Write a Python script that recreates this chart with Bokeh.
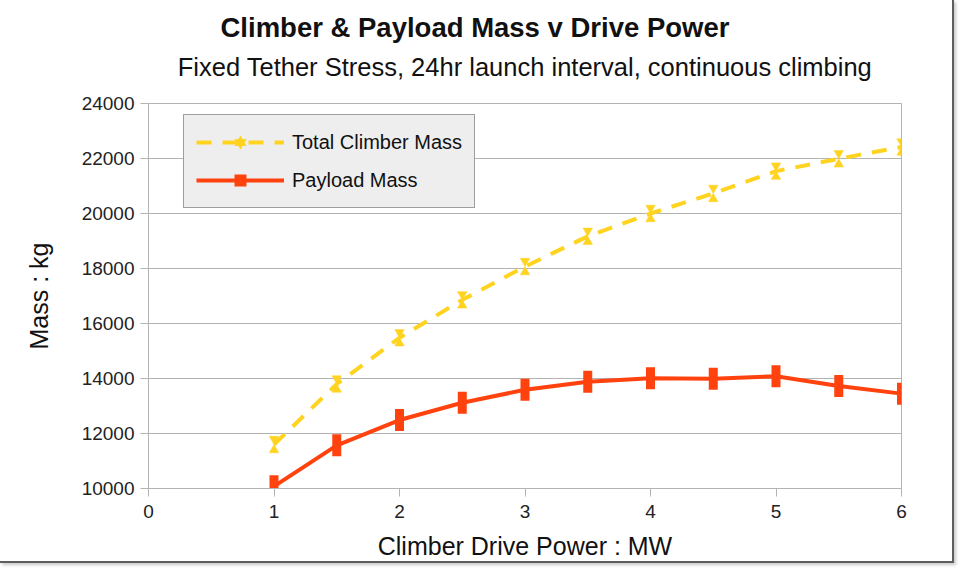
from bokeh.plotting import figure
from bokeh.models import (ColumnDataSource, Legend, LegendItem, Title,
                          FixedTicker, Range1d)
from bokeh.embed import file_html
from bokeh.resources import INLINE

# ---- data ----
power_mw = [1, 1.5, 2, 2.5, 3, 3.5, 4, 4.5, 5, 5.5, 6]
total_climber_mass = [11600, 13800, 15480, 16860, 18070, 19170, 20000, 20730, 21540, 21990, 22420]
payload_mass = [10080, 11570, 12490, 13120, 13590, 13880, 14010, 13990, 14080, 13730, 13450]
x_ticks = [0, 1, 2, 3, 4, 5, 6]
y_ticks = [10000, 12000, 14000, 16000, 18000, 20000, 22000, 24000]

title_text = "Climber & Payload Mass v Drive Power"
subtitle_text = "Fixed Tether Stress, 24hr launch interval, continuous climbing"
x_label = "Climber Drive Power : MW"
y_label = "Mass : kg"

YELLOW = "#ffd320"
RED = "#ff420e"
GRID = "#b3b3b3"
FONT = "Liberation Sans"

X0, X1 = 0, 6
Y0, Y1 = 10000, 24000
W, H = 954, 563
ML, MR, MT, MB = 148, 53, 103, 75
FRAME_H = H - MT - MB

p = figure(width=W, height=H, x_range=Range1d(X0, X1), y_range=Range1d(Y0, Y1),
           output_backend="svg", toolbar_location=None, title=None,
           min_border_left=ML, min_border_right=MR, min_border_top=MT, min_border_bottom=MB,
           background_fill_color="white", border_fill_color="white")
p.styles = {"border-right": "2px solid #5e5e5e", "border-bottom": "2px solid #5e5e5e",
            "box-shadow": "2px 2px 3px #c8c8c8"}

p.outline_line_color = GRID
p.outline_line_width = 1

# titles: spacer (closest to frame), subtitle, main title
p.add_layout(Title(text=" ", text_font=FONT, text_font_size="1px", standoff=18.5), "above")
p.add_layout(Title(text=subtitle_text, align="center", text_font=FONT, text_font_size="25.5px",
                   text_font_style="normal", text_color="#111111", standoff=2), "above")
p.add_layout(Title(text=title_text, align="left", offset=72, text_font=FONT, text_font_size="27.5px",
                   text_font_style="bold", text_color="#111111", standoff=12.5), "above")

# axes
for ax in (p.xaxis[0], p.yaxis[0]):
    ax.axis_line_color = GRID
    ax.major_tick_line_color = GRID
    ax.minor_tick_line_color = None
    ax.major_tick_out = 8
    ax.major_tick_in = 0
    ax.major_label_text_font = FONT
    ax.major_label_text_font_size = "19px"
    ax.major_label_text_color = "#222222"
    ax.axis_label_text_font = FONT
    ax.axis_label_text_font_size = "25px"
    ax.axis_label_text_font_style = "normal"
    ax.axis_label_text_color = "#111111"

p.xaxis.ticker = FixedTicker(ticks=x_ticks)
p.yaxis.ticker = FixedTicker(ticks=y_ticks)
p.xaxis.axis_label = x_label
p.yaxis.axis_label = y_label
p.xaxis.major_label_standoff = 8
p.yaxis.major_label_standoff = 6
p.xaxis.axis_label_standoff = 11
p.yaxis.axis_label_standoff = 26

p.xgrid.visible = False
p.ygrid.ticker = FixedTicker(ticks=y_ticks)
p.ygrid.grid_line_color = GRID
p.ygrid.grid_line_width = 1

# data sources
tri_size = 9.5
tri_off = 0.577 * tri_size * (Y1 - Y0) / FRAME_H
src_total = ColumnDataSource(dict(
    x=power_mw, y=total_climber_mass,
    y_up=[v + tri_off for v in total_climber_mass],
    y_dn=[v - tri_off for v in total_climber_mass]))
src_pay = ColumnDataSource(dict(x=power_mw, y=payload_mass))

# Total climber mass
l_total = p.line("x", "y", source=src_total, line_color=YELLOW, line_width=4,
                 line_dash="15 11")
p.scatter("x", "y_up", source=src_total, marker="inverted_triangle", size=tri_size,
          fill_color=YELLOW, line_color=YELLOW, line_width=0.5)
p.scatter("x", "y_dn", source=src_total, marker="triangle", size=tri_size,
          fill_color=YELLOW, line_color=YELLOW, line_width=0.5)
leg_t1 = p.scatter("x", "y", source=src_total, marker="inverted_triangle", size=0,
                   fill_color=YELLOW, line_color=None)
leg_t2 = p.scatter("x", "y", source=src_total, marker="triangle", size=0,
                   fill_color=YELLOW, line_color=None)

# Payload mass
l_pay = p.line("x", "y", source=src_pay, line_color=RED, line_width=4)
p.rect("x", "y", source=src_pay, width=9, height=22, width_units="screen",
       height_units="screen", fill_color=RED, line_color=None)
leg_sq = p.scatter("x", "y", source=src_pay, marker="square", size=0,
                   fill_color=RED, line_color=None)

legend = Legend(items=[
    LegendItem(label="Total Climber Mass", renderers=[l_total, leg_t1, leg_t2]),
    LegendItem(label="Payload Mass", renderers=[l_pay, leg_sq]),
], location=(35, 280))
legend.glyph_width = 88
legend.glyph_height = 30
legend.label_standoff = 8
legend.padding = 12
legend.spacing = 8
legend.margin = 0
legend.label_text_font = FONT
legend.label_text_font_size = "20px"
legend.label_text_color = "#111111"
legend.background_fill_color = "#eeeeee"
legend.background_fill_alpha = 1
legend.border_line_color = "#4d4d4d"
legend.border_line_width = 1.5
p.add_layout(legend, "center")

open("out.html", "w").write(file_html(p, INLINE))
